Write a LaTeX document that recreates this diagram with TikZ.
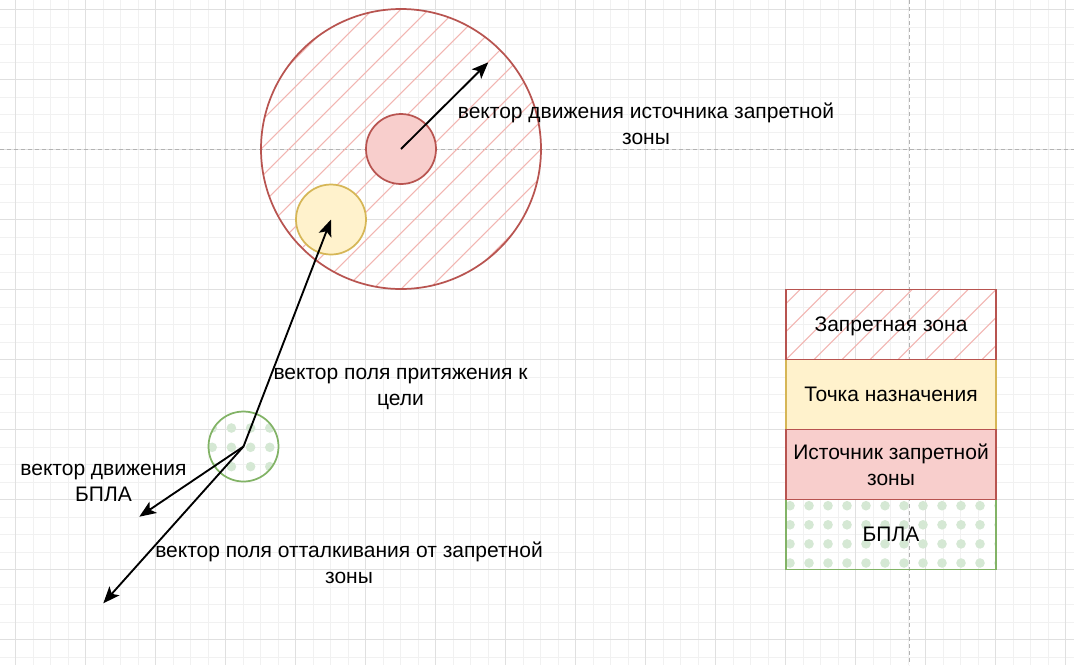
\documentclass[tikz,border=0pt]{standalone}
\usepackage{fontspec}
\setmainfont{Liberation Sans}
\usetikzlibrary{arrows.meta}
\definecolor{redfill}{HTML}{F8CECC}
\definecolor{redline}{HTML}{B85450}
\definecolor{yelfill}{HTML}{FFF2CC}
\definecolor{yelline}{HTML}{D6B656}
\definecolor{grnfill}{HTML}{D5E8D4}
\definecolor{grnline}{HTML}{82B366}
\definecolor{hatchcol}{HTML}{F2B5B1}
\definecolor{gridmajor}{HTML}{E0E0E0}
\definecolor{gridminor}{HTML}{F1F1F1}
\definecolor{guide}{HTML}{B3B3B3}
\begin{document}
\begin{tikzpicture}[x=0.75pt,y=-0.75pt,
  every node/.style={font=\fontsize{15.75}{19.5}\selectfont, inner sep=0pt, text=black},
  hatched/.style={path picture={\foreach \i in {-16,...,16}{\draw[hatchcol,line width=0.8pt] ([xshift=\i*21pt]path picture bounding box.south west) -- ++(330pt,330pt);}}},
  dotsB/.style={path picture={\foreach \a in {-1,...,3}{\foreach \b in {-1,...,3}{\fill[grnfill] ([shift={(-31.3+19.2*\a,-18.5+19.3*\b)}]path picture bounding box.center) circle (3.6pt);}}}},
  dotsL/.style={path picture={\foreach \a in {0,...,11}{\foreach \b in {0,...,3}{\fill[grnfill] ([shift={(-101+19*\a,-28.8+19.1*\b)}]path picture bounding box.center) circle (3.6pt);}}}},
  shapeline/.style={line width=1.3pt},
  ring/.style={circle, shapeline, minimum size=#1},
  legbox/.style={rectangle, shapeline, minimum width=157.5pt, minimum height=52.5pt, align=center},
  vec/.style={-{Stealth[length=12.5pt,width=10pt,inset=3pt]}, line width=1.4pt, black},
  lbl/.style={align=center}
]
\useasboundingbox (0,0) rectangle (1074,665);
\fill[white] (0,0) rectangle (1074,665);
% grid
\foreach \k in {0,...,60} \draw[gridminor,line width=0.75pt] ({15.5+17.5*\k},0) -- ({15.5+17.5*\k},665);
\foreach \k in {0,...,37} \draw[gridminor,line width=0.75pt] (0,{9.5+17.5*\k}) -- (1074,{9.5+17.5*\k});
\foreach \k in {0,...,15} \draw[gridmajor,line width=0.75pt] ({15.5+70*\k},0) -- ({15.5+70*\k},665);
\foreach \k in {0,...,9} \draw[gridmajor,line width=0.75pt] (0,{9.5+70*\k}) -- (1074,{9.5+70*\k});
% guides
\draw[guide,line width=0.75pt,dash pattern=on 3pt off 2.25pt] (0,149.5) -- (1074,149.5);
\draw[guide,line width=0.75pt,dash pattern=on 3pt off 2.25pt] (909.3,0) -- (909.3,665);
% shapes
\node[ring=210pt, draw=redline, hatched] (zone) at (401,149) {};
\node[ring=52.5pt, draw=redline, fill=redfill] (src) at (401,149) {};
\node[ring=52.5pt, draw=yelline, fill=yelfill] (dest) at (331,219.5) {};
\node[ring=52.5pt, draw=grnline, dotsB] (bpla) at (243.5,446.5) {};
% vectors
\coordinate (zt) at (488.3,62.3);
\coordinate (mt) at (139.3,516.7);
\coordinate (rt) at (103.3,603.3);
\draw[vec] (src.center) -- (zt);
\draw[vec] (bpla.center) -- (dest.center);
\draw[vec] (bpla.center) -- (mt);
\draw[vec] (bpla.center) -- (rt);
% labels
\node[lbl] (l1) at (646,124) {вектор движения источника запретной\\зоны};
\node[lbl] (l2) at (400.5,389) {вектор поля притяжения к\\цели};
\node[lbl] (l3) at (103.5,483) {вектор движения\\БПЛА};
\node[lbl] (l4) at (349,563) {вектор поля отталкивания от запретной\\зоны};
% legend
\node[legbox, draw=yelline, fill=yelfill] (ld) at (891,394.5) {Точка назначения};
\node[legbox, draw=grnline, dotsL] (lb) at (891,534.5) {БПЛА};
\node[legbox, draw=redline, fill=redfill] (ls) at (891,464.5) {Источник запретной\\зоны};
\node[legbox, draw=redline, hatched, text depth=0pt] (lz) at (891,324.5) {Запретная зона};
\end{tikzpicture}
\end{document}
